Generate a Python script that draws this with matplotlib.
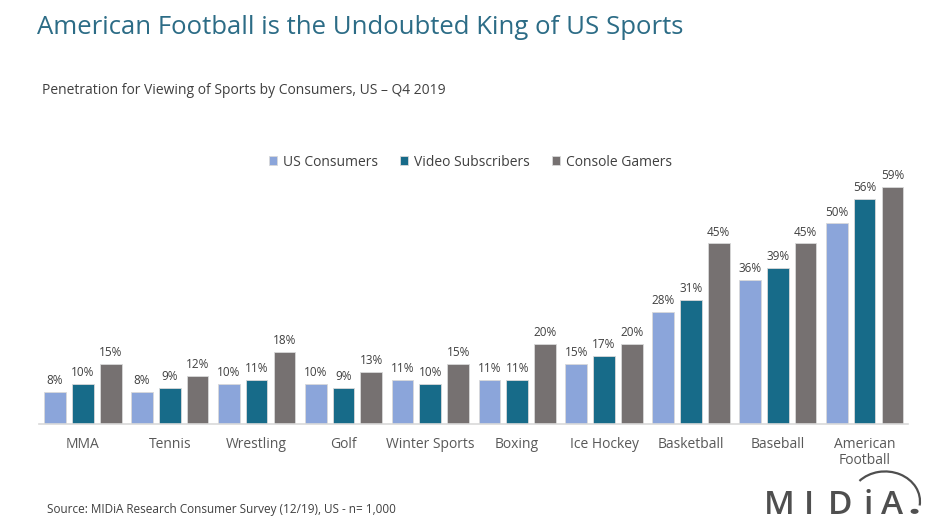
import matplotlib.pyplot as plt
import numpy as np
from matplotlib.patches import Arc, Circle

plt.rcParams['font.family'] = ['Open Sans', 'DejaVu Sans']

# Data
sports = ['MMA', 'Tennis', 'Wrestling', 'Golf', 'Winter Sports', 'Boxing',
          'Ice Hockey', 'Basketball', 'Baseball', 'American\nFootball']
us_consumers = [8, 8, 10, 10, 11, 11, 15, 28, 36, 50]
video_subs = [10, 9, 11, 9, 10, 11, 17, 31, 39, 56]
console_gamers = [15, 12, 18, 13, 15, 20, 20, 45, 45, 59]

series_names = ['US Consumers', 'Video Subscribers', 'Console Gamers']
colors = ['#8BA5DA', '#176B89', '#767171']

fig = plt.figure(figsize=(9.39, 5.25), dpi=100)
ax = fig.add_axes([0.042, 0.192, 0.925, 0.459])

x = np.arange(len(sports))
width = 0.25
step = 0.32
for i, (vals, name, c) in enumerate(zip([us_consumers, video_subs, console_gamers], series_names, colors)):
    pos = x + (i - 1) * step
    bars = ax.bar(pos, vals, width, color=c, label=name, edgecolor='#d9d9d9', linewidth=0.6)
    for b, v in zip(bars, vals):
        ax.text(b.get_x() + b.get_width() / 2, v + 1.2, f'{v}%', ha='center', va='bottom',
                fontsize=8.5, color='#404040')

ax.set_xlim(-0.5, len(sports) - 0.5)
ax.set_ylim(0, 60)
ax.set_yticks([])
ax.set_xticks(x)
ax.set_xticklabels(sports, fontsize=10, color='#595959', linespacing=1.1)
ax.tick_params(axis='x', length=0, pad=9)
for s in ['top', 'right', 'left']:
    ax.spines[s].set_visible(False)
ax.spines['bottom'].set_color('#d9d9d9')
ax.spines['bottom'].set_linewidth(1.2)

ax.legend(loc='center', bbox_to_anchor=(0.496, 1.087), ncol=3, frameon=False,
          fontsize=10, handlelength=0.6, handleheight=0.6, handletextpad=0.4,
          columnspacing=1.6, labelcolor='#404040')

fig.text(0.039, 0.947, 'American Football is the Undoubted King of US Sports',
         fontsize=18.5, color='#2C6C86', va='center', ha='left')
fig.text(0.045, 0.828, 'Penetration for Viewing of Sports by Consumers, US \u2013 Q4 2019',
         fontsize=10, color='#404040', va='center', ha='left')
fig.text(0.05, 0.03, 'Source: MIDiA Research Consumer Survey (12/19), US - n= 1,000',
         fontsize=8.5, color='#404040', va='center', ha='left')

# logo
logo_color = '#4f4f4f'
for ch, lx in zip('MIDiA', [0.830, 0.862, 0.895, 0.924, 0.950]):
    fig.text(lx, 0.02, ch, fontsize=24, color=logo_color, va='baseline', ha='center',
             fontweight='semibold')
fig.add_artist(Arc((0.9425, 0.045), 0.0745, 0.114, theta1=-12, theta2=125,
                   transform=fig.transFigure, color=logo_color, linewidth=1.6))
fig.add_artist(Circle((0.974, 0.026), 0.0035, transform=fig.transFigure, color=logo_color))

fig.savefig('out.png', dpi=100)
